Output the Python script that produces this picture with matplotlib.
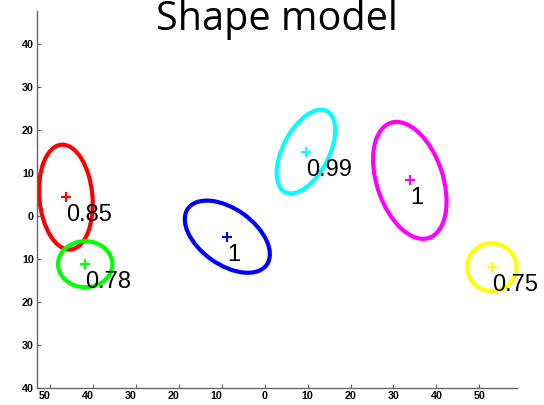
import matplotlib
matplotlib.use("Agg")
import matplotlib.pyplot as plt
from matplotlib.patches import Ellipse
import matplotlib.transforms as mtransforms

# ---- data ----
center_x = [-46.3, -41.8, -8.7, 9.6, 33.8, 52.9]
center_y = [4.4, -11.2, -4.8, 15.0, 8.3, -11.9]
semi_major = [12.24, 6.33, 11.26, 10.6, 14.1, 5.75]
semi_minor = [6.18, 5.36, 6.47, 5.38, 7.7, 5.55]
angle_deg = [95.1, 0.0, -35.5, 62.7, 108.4, 0.0]
weights = ["0.85", "0.78", "1", "0.99", "1", "0.75"]
colors = ["#ff0000", "#00ff00", "#0000ff", "#00ffff", "#ff00ff", "#ffff00"]
xticks = [-50, -40, -30, -20, -10, 0, 10, 20, 30, 40, 50]
yticks = [-40, -30, -20, -10, 0, 10, 20, 30, 40]
title = "Shape model"

W, H = 544, 405
fig = plt.figure(figsize=(W / 100, H / 100), dpi=100)
ax = fig.add_axes([36.7 / W, 17 / H, 480 / W, 377 / H])
ax.set_xlim(-53.1, 58.7)
ax.set_ylim(-40, 47.7)

for cx, cy, a, b, ang, w, c in zip(center_x, center_y, semi_major, semi_minor,
                                   angle_deg, weights, colors):
    e = Ellipse((cx, cy), 2 * a, 2 * b, angle=ang, fill=False, edgecolor=c,
                linewidth=3.0, clip_on=False)
    ax.add_patch(e)
    ax.plot([cx], [cy], marker="+", color=c, markersize=7, mew=1.5,
            clip_on=False)
    ax.text(cx, cy - 4.2, w, ha="left", va="center", fontsize=17,
            family="Liberation Sans", color="black", clip_on=False)

for s in ["top", "right"]:
    ax.spines[s].set_visible(False)
for s in ["left", "bottom"]:
    ax.spines[s].set_color("#666666")
    ax.spines[s].set_linewidth(1.0)

ax.set_xticks(xticks)
ax.set_yticks(yticks)
ax.set_xticklabels([str(abs(v)) for v in xticks])
ax.set_yticklabels([str(abs(v)) for v in yticks])
ax.tick_params(direction="in", length=3, width=0.8, color="#666666",
               labelsize=7.7, pad=2)
for lab in ax.get_xticklabels() + ax.get_yticklabels():
    lab.set_family("Liberation Sans")
    lab.set_fontweight("bold")
for v, lab in zip(xticks, ax.get_xticklabels()):
    if v < 0:
        lab.set_transform(lab.get_transform() +
                          mtransforms.ScaledTranslation(-5.5 / 100, 0, fig.dpi_scale_trans))

fig.text(276.7 / W, 1 - 30 / H, title, ha="center", va="baseline",
         fontsize=28.5, family="Open Sans")

fig.savefig("out.png", dpi=100)
